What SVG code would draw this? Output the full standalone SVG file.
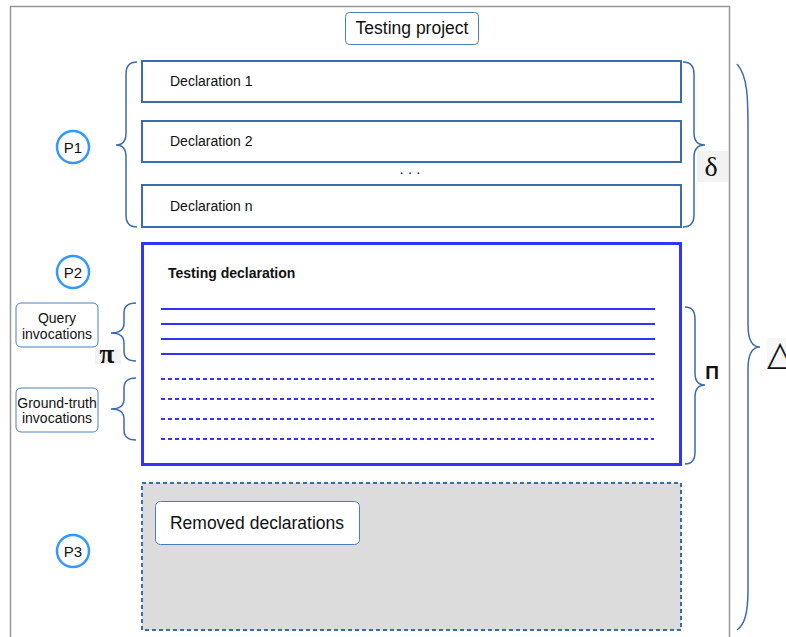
<svg xmlns="http://www.w3.org/2000/svg" width="786" height="637" viewBox="0 0 786 637">
<style>
.t{font-family:"Liberation Sans",Arial,sans-serif;fill:#111}
.brace{fill:none;stroke:#3b6bb0;stroke-width:1.5}
.decl{fill:#fff;stroke:#3b6bb0;stroke-width:2}
.pc{fill:#fff;stroke:#3399ff;stroke-width:2.5}
.lbl{fill:#fff;stroke:#4a7ebb;stroke-width:1}
.sol{stroke:#3333ff;stroke-width:2}
.dash{stroke:#3333ff;stroke-width:2;stroke-dasharray:4 3}
</style>
<rect width="786" height="637" fill="#fff"/>
<g id="outer"><path d="M10.5,640 V6.5 H729.5 V640" fill="none" stroke="#999" stroke-width="1.5"/></g>
<g id="testing-project"><rect class="lbl" x="345.5" y="12.5" width="133" height="32" rx="4"/><text class="t" x="412" y="34" font-size="17.5" text-anchor="middle">Testing project</text></g>
<g id="decl1"><rect class="decl" x="142" y="61" width="539" height="41"/><text class="t" x="170" y="86" font-size="14">Declaration 1</text></g>
<g id="decl2"><rect class="decl" x="142" y="121" width="539" height="41"/><text class="t" x="170" y="146" font-size="14">Declaration 2</text></g>
<g id="dots"><text class="t" x="410" y="174" font-size="15" text-anchor="middle">. . .</text></g>
<g id="decln"><rect class="decl" x="142" y="185" width="539" height="42"/><text class="t" x="170" y="211" font-size="14">Declaration n</text></g>
<g id="p1"><circle class="pc" cx="73" cy="147" r="16"/><text class="t" x="73" y="152.5" font-size="15" text-anchor="middle">P1</text></g>
<g id="p2"><circle class="pc" cx="73" cy="272" r="16"/><text class="t" x="73" y="277.5" font-size="15" text-anchor="middle">P2</text></g>
<g id="p3"><circle class="pc" cx="73" cy="551" r="16"/><text class="t" x="73" y="556.5" font-size="15" text-anchor="middle">P3</text></g>
<g id="testing-declaration">
<rect x="142.5" y="243.5" width="538" height="221" fill="#fff" stroke="#3333ff" stroke-width="3"/>
<text class="t" x="168" y="278" font-size="14" font-weight="bold">Testing declaration</text>
<line class="sol" x1="161" y1="309" x2="655" y2="309"/>
<line class="sol" x1="161" y1="324" x2="655" y2="324"/>
<line class="sol" x1="161" y1="339" x2="655" y2="339"/>
<line class="sol" x1="161" y1="354" x2="655" y2="354"/>
<line class="dash" x1="161" y1="379" x2="654" y2="379"/>
<line class="dash" x1="161" y1="399" x2="654" y2="399"/>
<line class="dash" x1="161" y1="419" x2="654" y2="419"/>
<line class="dash" x1="161" y1="439" x2="654" y2="439"/>
</g>
<g id="query"><rect class="lbl" x="16" y="303" width="82" height="44" rx="5"/><text class="t" x="57" y="323" font-size="14" text-anchor="middle">Query</text><text class="t" x="57" y="339" font-size="14" text-anchor="middle">invocations</text></g>
<g id="groundtruth"><rect class="lbl" x="16" y="388" width="82" height="44" rx="5"/><text class="t" x="57" y="408" font-size="14" text-anchor="middle">Ground-truth</text><text class="t" x="57" y="423" font-size="14" text-anchor="middle">invocations</text></g>
<g id="removed">
<rect x="142" y="483" width="539" height="147" fill="#dcdcdc" stroke="#3b6bb0" stroke-width="2" stroke-dasharray="4 3"/>
<rect class="lbl" x="155.5" y="501.5" width="204" height="43" rx="5"/>
<text class="t" x="257" y="529" font-size="17.5" text-anchor="middle">Removed declarations</text>
</g>
<g id="braces">
<path class="brace" d="M137,62 Q126,62 126,74 V133 Q126,145 116,145 Q126,145 126,157 V215 Q126,227 137,227"/>
<path class="brace" d="M683,62 Q694,62 694,74 V133 Q694,145 705,145 Q694,145 694,157 V215 Q694,227 683,227"/>
<path class="brace" d="M136,303 Q124,303 124,313 V323 Q124,333 111,333 Q124,333 124,343 V351 Q124,361 136,361"/>
<path class="brace" d="M136,378 Q124,378 124,388 V399 Q124,409 111,409 Q124,409 124,419 V430 Q124,440 136,440"/>
<path class="brace" d="M685,307 Q695,307 695,319 V373 Q695,385 705,385 Q695,385 695,397 V452 Q695,464 685,464"/>
<path class="brace" d="M737,64 C748,76 748,100 748,130 V325 Q748,347 760,347 Q748,347 748,369 V590 C748,615 744,625 737,630"/>
</g>
<g id="symbols">
<rect x="697" y="151" width="31" height="31" fill="#f2f2f2"/>
<text x="711" y="176" font-size="28" text-anchor="middle" font-family="'Liberation Serif','Times New Roman',serif" fill="#111">δ</text>
<rect x="95" y="349" width="26" height="15" fill="#f2f2f2"/>
<text x="107" y="363" font-size="27" font-weight="bold" text-anchor="middle" font-family="'Liberation Serif','Times New Roman',serif" fill="#111">π</text>
<text x="712" y="379" font-size="19" font-weight="bold" text-anchor="middle" font-family="'Liberation Sans',Arial,sans-serif" fill="#111">Π</text>
<rect x="767" y="338" width="19" height="30" fill="#f7f7f7"/>
<text x="767" y="365" font-size="34" font-family="'DejaVu Sans',sans-serif" fill="#111">△</text>
</g>
</svg>
